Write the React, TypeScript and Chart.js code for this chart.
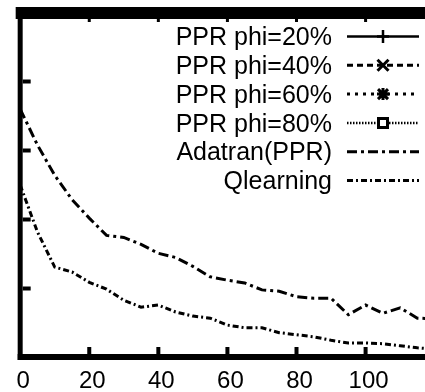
import React, { useEffect, useRef } from 'react';
import { Chart, registerables } from 'chart.js';

Chart.register(...registerables);

// ---- data ----
const xValues = [0, 5, 10, 15, 20, 25, 30, 35, 40, 45, 50, 55, 60, 65, 70, 75, 80, 85, 90, 95, 100, 105, 110, 115, 120];
const adatranValues = [3.6, 3.08, 2.64, 2.29, 2.02, 1.77, 1.74, 1.64, 1.51, 1.45, 1.32, 1.17, 1.12, 1.08, 0.98, 0.96, 0.88, 0.86, 0.86, 0.62, 0.76, 0.64, 0.72, 0.57, 0.56];
const qlearningValues = [2.5, 1.82, 1.31, 1.24, 1.09, 0.99, 0.83, 0.73, 0.76, 0.66, 0.6, 0.57, 0.47, 0.43, 0.43, 0.36, 0.33, 0.3, 0.25, 0.21, 0.21, 0.2, 0.17, 0.14, 0.12];
const ppr20Values: number[] = [];
const ppr40Values: number[] = [];
const ppr60Values: number[] = [];
const ppr80Values: number[] = [];
const seriesLabels = ['PPR phi=20%', 'PPR phi=40%', 'PPR phi=60%', 'PPR phi=80%', 'Adatran(PPR)', 'Qlearning'];
const xTickValues = [0, 20, 40, 60, 80, 100];
const yTickValues = [1, 2, 3, 4];

const FONT = '"Liberation Sans", Arial, Helvetica, sans-serif';

const toPoints = (vals: number[]) => vals.map((y, i) => ({ x: xValues[i], y }));

const framePlugin = {
  id: 'gnuplotFrame',
  afterDraw(chart: any) {
    const { ctx, chartArea, scales } = chart;
    const { left, right, top, bottom } = chartArea;
    const xs = scales.x;
    const ys = scales.y;
    ctx.save();
    ctx.fillStyle = '#000';
    // top thick border
    ctx.fillRect(left - 4.5, top - 5.5, right - left + 4.5, 12);
    // left axis
    ctx.fillRect(left - 2.5, top, 5, bottom - top + 2.5);
    // bottom axis
    ctx.fillRect(left - 2.5, bottom - 3.5, right - left + 2.5, 6);
    // left ticks (inward)
    yTickValues.forEach((v) => {
      const y = ys.getPixelForValue(v);
      ctx.fillRect(left + 2.5, y - 2, 8, 4);
    });
    // bottom + top ticks (inward)
    xTickValues.forEach((v) => {
      if (v === 0) return;
      const x = xs.getPixelForValue(v);
      ctx.fillRect(x - 2, bottom - 10.5, 4, 7);
      ctx.fillRect(x - 1.5, top + 6.5, 3, 3);
    });

    // legend
    const rowStart = 36.5;
    const rowGap = 28.8;
    const textRight = 332;
    const sx0 = 347;
    const sx1 = 419;
    const mx = 383;
    ctx.font = `25px ${FONT}`;
    ctx.textAlign = 'right';
    ctx.textBaseline = 'alphabetic';
    chart.data.datasets.forEach((ds: any, i: number) => {
      const cy = rowStart + i * rowGap;
      ctx.fillStyle = '#000';
      ctx.fillText(ds.label, textRight, cy + 8.6);
      ctx.strokeStyle = '#000';
      ctx.lineWidth = ds.legendLineWidth;
      ctx.lineCap = 'butt';
      ctx.setLineDash(ds.borderDash || []);
      ctx.lineDashOffset = 0;
      if (ds.legendMarker === 'square') {
        ctx.beginPath();
        ctx.moveTo(sx0, cy);
        ctx.lineTo(mx - 6, cy);
        ctx.moveTo(mx + 6, cy);
        ctx.lineTo(sx1, cy);
        ctx.stroke();
      } else {
        ctx.beginPath();
        ctx.moveTo(sx0, cy);
        ctx.lineTo(sx1, cy);
        ctx.stroke();
      }
      ctx.setLineDash([]);
      const m = ds.legendMarker;
      ctx.beginPath();
      if (m === 'plus') {
        ctx.lineWidth = 2.5;
        ctx.moveTo(mx, cy - 6.5);
        ctx.lineTo(mx, cy + 6.5);
        ctx.moveTo(mx - 6, cy);
        ctx.lineTo(mx + 6, cy);
      } else if (m === 'cross') {
        ctx.lineWidth = 3;
        ctx.moveTo(mx - 5.5, cy - 5.5);
        ctx.lineTo(mx + 5.5, cy + 5.5);
        ctx.moveTo(mx + 5.5, cy - 5.5);
        ctx.lineTo(mx - 5.5, cy + 5.5);
      } else if (m === 'star') {
        ctx.lineWidth = 3;
        ctx.moveTo(mx - 5, cy - 5);
        ctx.lineTo(mx + 5, cy + 5);
        ctx.moveTo(mx + 5, cy - 5);
        ctx.lineTo(mx - 5, cy + 5);
        ctx.moveTo(mx, cy - 6);
        ctx.lineTo(mx, cy + 6);
        ctx.moveTo(mx - 6, cy);
        ctx.lineTo(mx + 6, cy);
      } else if (m === 'square') {
        ctx.lineWidth = 3;
        ctx.rect(mx - 4.5, cy - 4.5, 9, 9);
      }
      ctx.stroke();
    });
    ctx.restore();
  },
};

export default function App() {
  const canvasRef = useRef<HTMLCanvasElement | null>(null);

  useEffect(() => {
    const canvas = canvasRef.current;
    if (!canvas) return;
    const mk = (label: string, vals: number[], dash: number[], lw: number, marker: string) => ({
      label,
      data: toPoints(vals),
      borderColor: '#000',
      backgroundColor: '#000',
      borderWidth: 3,
      borderDash: dash,
      pointRadius: 0,
      tension: 0,
      fill: false,
      legendLineWidth: lw,
      legendMarker: marker,
    });
    const chart = new Chart(canvas, {
      type: 'line',
      data: {
        datasets: [
          mk(seriesLabels[0], ppr20Values, [], 2.5, 'plus'),
          mk(seriesLabels[1], ppr40Values, [6, 4], 3, 'cross'),
          mk(seriesLabels[2], ppr60Values, [3, 5], 3, 'star'),
          mk(seriesLabels[3], ppr80Values, [1.5, 1.5], 2.5, 'square'),
          mk(seriesLabels[4], adatranValues, [10, 4, 3, 4], 3, 'none'),
          mk(seriesLabels[5], qlearningValues, [6, 3, 2, 3], 3, 'none'),
        ] as any,
      },
      options: {
        animation: false,
        responsive: false,
        maintainAspectRatio: false,
        devicePixelRatio: 1,
        events: [],
        layout: { padding: { left: 18.5, top: 12.5, right: 0, bottom: 0.5 } },
        plugins: {
          legend: { display: false },
          tooltip: { enabled: false },
          title: { display: false },
        },
        scales: {
          x: {
            type: 'linear',
            min: 0,
            max: 117.2,
            grid: { display: false, drawTicks: false },
            border: { display: false },
            afterBuildTicks: (scale: any) => {
              scale.ticks = xTickValues.map((v) => ({ value: v }));
            },
            ticks: {
              color: '#000',
              font: { family: FONT, size: 24, lineHeight: '21px' },
              padding: 13.5,
              labelOffset: 3,
              maxRotation: 0,
              autoSkip: false,
              includeBounds: false,
            },
          },
          y: {
            type: 'linear',
            display: false,
            min: 0,
            max: 5,
          },
        },
      } as any,
      plugins: [framePlugin],
    });
    return () => chart.destroy();
  }, []);

  return (
    <div style={{ position: 'absolute', left: 0, top: 0, width: 425, height: 392, overflow: 'hidden', background: '#fff' }}>
      <canvas ref={canvasRef} width={425} height={406} style={{ display: 'block' }} />
    </div>
  );
}
